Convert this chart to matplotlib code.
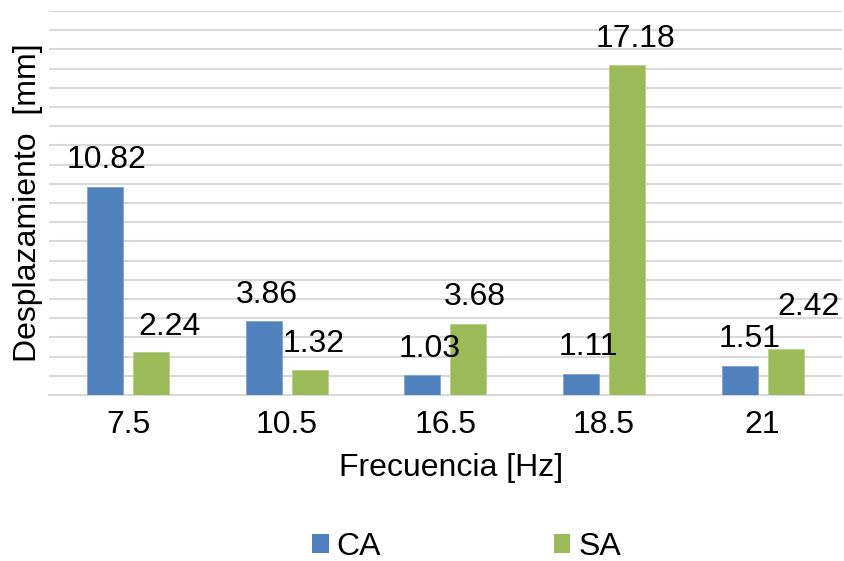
import matplotlib
matplotlib.use("Agg")
import matplotlib.pyplot as plt
import numpy as np
from matplotlib.patches import Patch

categories = ["7.5", "10.5", "16.5", "18.5", "21"]
ca_values = [10.82, 3.86, 1.03, 1.11, 1.51]
sa_values = [2.24, 1.32, 3.68, 17.18, 2.42]
series_names = ["CA", "SA"]

# label offsets in pixels (dx, dy from bar top to text baseline)
ca_offsets = [(1, 19), (3, 18), (7, 18), (7, 19), (10, 19)]
sa_offsets = [(18, 17), (4, 18), (6, 19), (8, 18), (23, 34)]

plt.rcParams['font.family'] = ['Liberation Sans', 'DejaVu Sans']
FS = 23
blue = "#4F81BD"
green = "#9BBB59"
grid_c = "#D9D9D9"

fig = plt.figure(figsize=(8.44, 5.61), dpi=100)
ax = fig.add_axes([0.058, 0.2959, 0.9396, 0.6845])

x = np.arange(len(categories))
w = 0.227
off = 0.145
b1 = ax.bar(x - off, ca_values, w, color=blue, edgecolor="#7FA3D3", linewidth=0.6, zorder=3)
b2 = ax.bar(x + off, sa_values, w, color=green, edgecolor="#B9D08A", linewidth=0.6, zorder=3)

for bars, vals, offs in ((b1, ca_values, ca_offsets), (b2, sa_values, sa_offsets)):
    for r, v, (dx, dy) in zip(bars, vals, offs):
        ax.annotate(f"{v:.2f}", (r.get_x() + r.get_width() / 2, v),
                    xytext=(dx, dy), textcoords="offset pixels",
                    ha="center", va="baseline", fontsize=FS, color="black", zorder=4)

ax.set_xlim(-0.5, len(categories) - 0.5)
ax.set_ylim(0, 20)
ax.set_yticks(np.arange(0, 21, 1))
ax.yaxis.grid(True, color=grid_c, linewidth=1.5, zorder=0)
ax.set_axisbelow(True)
ax.tick_params(axis="y", length=0, labelleft=False)
ax.tick_params(axis="x", length=0, pad=11, labelsize=FS)
ax.set_xticks(x)
ax.set_xticklabels(categories)
for s in ("top", "right", "left"):
    ax.spines[s].set_visible(False)
ax.spines["bottom"].set_color(grid_c)
ax.spines["bottom"].set_linewidth(1.5)

ax.set_xlabel("Frecuencia [Hz]", fontsize=FS)
ax.xaxis.set_label_coords(0.5075, -0.151)
ax.set_ylabel("Desplazamiento  [mm]", fontsize=FS, labelpad=4)

handles = [Patch(facecolor=blue), Patch(facecolor=green)]
fig.legend(handles, series_names, loc="center", bbox_to_anchor=(0.553, 0.025),
           ncol=2, frameon=False, fontsize=FS, handlelength=0.52, handleheight=0.52,
           handletextpad=0.26, columnspacing=5.4)

fig.savefig("out.png", dpi=100)
